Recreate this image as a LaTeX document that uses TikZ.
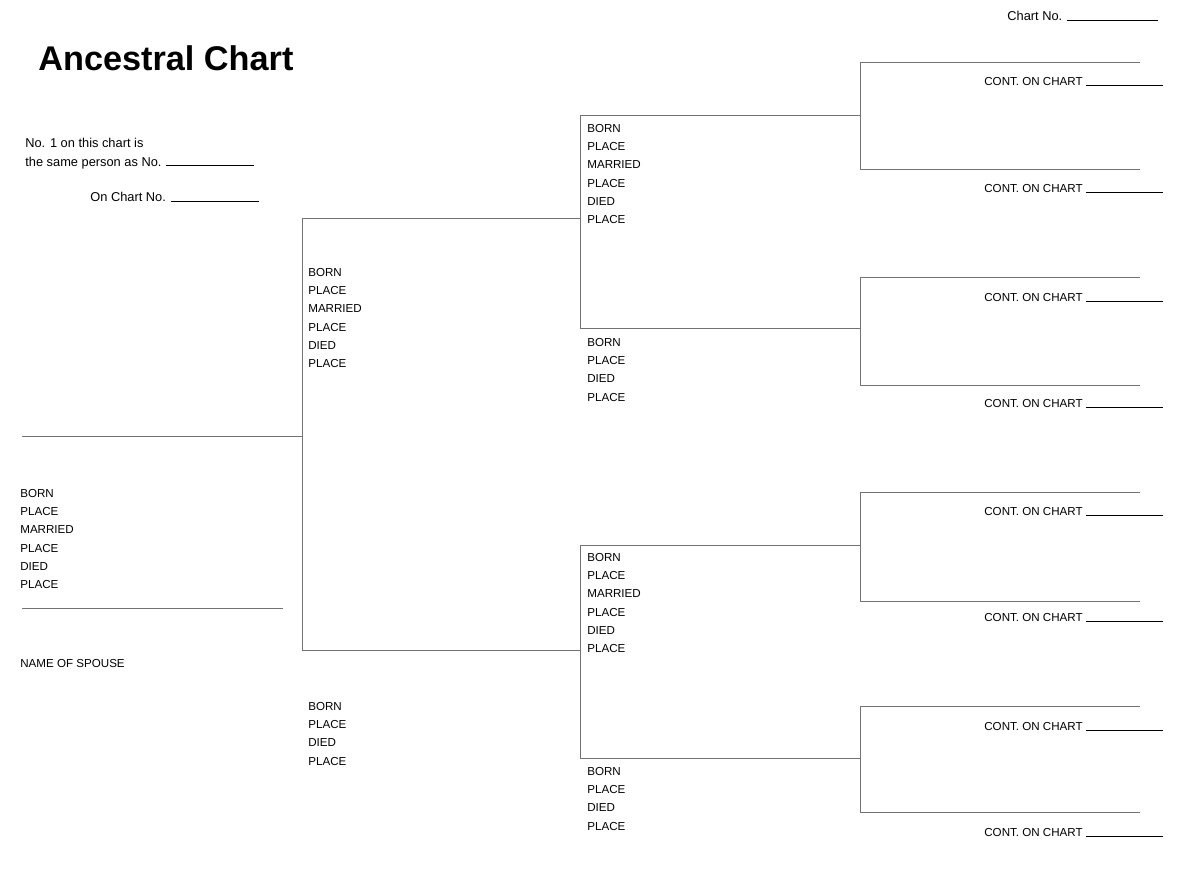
\documentclass[tikz,border=0pt]{standalone}
\usepackage{fontspec}
\setmainfont{Liberation Sans}
\usetikzlibrary{positioning}

\begin{document}
\begin{tikzpicture}[x=0.02cm, y=-0.02cm,
    line/.style={draw=black!55, line width=0.5pt},
    info/.style={anchor=north west, inner sep=0pt, align=left, font=\fontsize{6.6}{10.4}\selectfont},
    cont/.style={anchor=west, inner sep=0pt, font=\fontsize{6.6}{8}\selectfont}]
                
                    \useasboundingbox (0,0) rectangle (1200,881);
                    \node[anchor=west, inner sep=0pt, font=\fontsize{19.5}{22}\bfseries] (title) at (38,58) {Ancestral Chart};
                    \node[anchor=west, inner sep=0pt, font=\fontsize{7.3}{9}\selectfont] (chartno) at (1007,16) {Chart No. \rule{52pt}{0.4pt}};
                    \node[anchor=north west, inner sep=0pt, align=left, font=\fontsize{7.3}{10.5}\selectfont] (same) at (25,138) {No. 1 on this chart is\\the same person as No. \rule{50pt}{0.4pt}};
                    \node[anchor=west, inner sep=0pt, font=\fontsize{7.3}{9}\selectfont] (onchart) at (90,197) {On Chart No. \rule{50pt}{0.4pt}};
                    
                    % generation 1
                    \coordinate (p1) at (22,436); \coordinate (j1) at (302,436);
                    \draw[line] (p1) -- (j1);
                    \draw[line] (302,218) -- (302,650);
                    \node[info] (b1) at (20,489) {BORN\\PLACE\\MARRIED\\PLACE\\DIED\\PLACE};
                    \draw[line] (22,608) -- (283,608);
                    \node[info] (spouse) at (20,659) {NAME OF SPOUSE};
                    
                    % generation 2
                    \draw[line] (302,218) -- (580,218);
                    \draw[line] (302,650) -- (580,650);
                    \node[info] (b2) at (308,268) {BORN\\PLACE\\MARRIED\\PLACE\\DIED\\PLACE};
                    \node[info] (b3) at (308,702) {BORN\\PLACE\\DIED\\PLACE};
                    \draw[line] (580,115) -- (580,328);
                    \draw[line] (580,545) -- (580,758);
                    
                    % generation 3
                    \foreach \y in {115,328,545,758} \draw[line] (580,\y) -- (860,\y);
                    \node[info] (b4) at (587,124) {BORN\\PLACE\\MARRIED\\PLACE\\DIED\\PLACE};
                    \node[info] (b5) at (587,338) {BORN\\PLACE\\DIED\\PLACE};
                    \node[info] (b6) at (587,553) {BORN\\PLACE\\MARRIED\\PLACE\\DIED\\PLACE};
                    \node[info] (b7) at (587,767) {BORN\\PLACE\\DIED\\PLACE};
                    \foreach \a/\b in {62/169,277/385,492/601,706/812} \draw[line] (860,\a) -- (860,\b);
                    
                    % generation 4
                    \foreach \y/\t in {62/82,169/189,277/298,385/404,492/512,601/618,706/727,812/833}{
                        \draw[line] (860,\y) -- (1140,\y);
                        \node[cont] at (984,\t) {CONT. ON CHART \rule{44pt}{0.4pt}};
                    }
                    
                \end{tikzpicture}
\end{document}
